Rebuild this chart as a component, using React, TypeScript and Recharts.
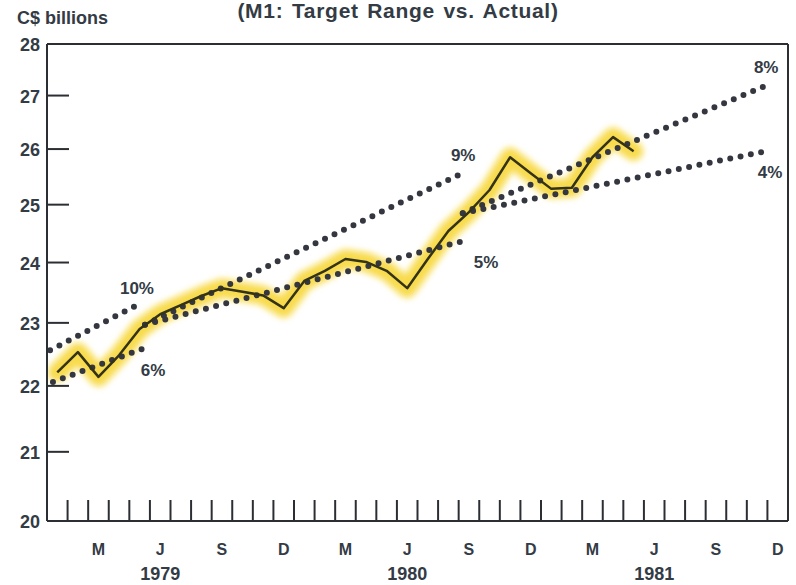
import { LineChart, Line, XAxis, YAxis, ReferenceLine } from "recharts";

// month letters shown under Mar, Jun, Sep, Dec
const monthLetters = ["M", "J", "S", "D"];
const years = ["1979", "1980", "1981"];
const yTicks = [20, 21, 22, 23, 24, 25, 26, 27, 28];

// M1 actual, monthly from Jan 1979 to May 1981 (C$ billions)
const actualM1 = [
  22.21, 22.53, 22.14, 22.48, 22.9, 23.14, 23.29, 23.44, 23.57, 23.51, 23.45, 23.24,
  23.69, 23.86, 24.06, 24.01, 23.86, 23.57, 24.06, 24.54, 24.87, 25.26, 25.85, 25.56,
  25.28, 25.3, 25.85, 26.22, 25.96,
];

// target range growth paths: [month, value] at start and end (month 0 = start of Jan 1979)
const targetNames = ["10%", "6%", "9%", "5%", "8%", "4%"];
const targetFrom = [
  [0.15, 22.56],
  [0.29, 22.06],
  [4.76, 22.97],
  [4.76, 22.97],
  [20.2, 24.85],
  [20.2, 24.85],
];
const targetTo = [
  [4.37, 23.29],
  [4.86, 22.61],
  [20.17, 25.56],
  [20.36, 24.38],
  [34.99, 27.2],
  [35.18, 25.98],
];

const ink = "#333b45";
const font = "'Liberation Sans', Arial, sans-serif";

// where each % label sits relative to the end of its line
const labelOffset: Record<string, [number, number]> = {
  "10%": [0, -17],
  "6%": [6, 23],
  "9%": [1, -18],
  "5%": [20, 22],
  "8%": [-1, -18],
  "4%": [-1, 22],
};

const actualData = actualM1.map((v, i) => ({ t: i + 0.5, v }));
const targetData = targetNames.map((name, i) => ({
  name,
  data: [
    { t: targetFrom[i][0], v: targetFrom[i][1] },
    { t: targetTo[i][0], v: targetTo[i][1] },
  ],
}));

const monthBoundaries = Array.from({ length: 35 }, (_, i) => i + 1);
const labelCenters = Array.from({ length: 12 }, (_, i) => 2.5 + i * 3);
const xTicks = [...monthBoundaries, ...labelCenters];

function MonthTick(props: any) {
  const { x, y, payload } = props;
  const v = payload.value as number;
  if (Number.isInteger(v)) {
    return <line x1={x} x2={x} y1={y} y2={y - 21} stroke="#2b2f33" strokeWidth={2} />;
  }
  const m = Math.floor(v);
  const letter = monthLetters[((m - 2) / 3) % 4];
  const yi = (m - 5) / 12;
  return (
    <g>
      <text x={x} y={y + 34} textAnchor="middle" fill={ink} fontSize={16} fontWeight="bold" fontFamily={font}>
        {letter}
      </text>
      {Number.isInteger(yi) && (
        <text x={x} y={y + 59} textAnchor="middle" fill={ink} fontSize={18} fontWeight="bold" fontFamily={font}>
          {years[yi]}
        </text>
      )}
    </g>
  );
}

function ValueTick(props: any) {
  const { x, y, payload } = props;
  const v = payload.value as number;
  const inner = v > 20 && v < 28;
  return (
    <g>
      {inner && <line x1={x} x2={x + 22} y1={y} y2={y} stroke="#2b2f33" strokeWidth={2} />}
      <text x={x - 7} y={y + 7} textAnchor="end" fill={ink} fontSize={18} fontWeight="bold" fontFamily={font}>
        {v}
      </text>
    </g>
  );
}

function pctLabel(name: string) {
  return (p: any) => {
    if (p.index !== 1) return null;
    const [dx, dy] = labelOffset[name];
    return (
      <text
        key={name}
        x={p.x + dx}
        y={p.y + dy}
        textAnchor="middle"
        dominantBaseline="central"
        fill={ink}
        fontSize={17}
        fontWeight="bold"
        fontFamily={font}
      >
        {name}
      </text>
    );
  };
}

export default function App() {
  return (
    <div style={{ position: "absolute", left: 0, top: 0, width: 796, height: 585, background: "#fff" }}>
      <div
        style={{
          position: "absolute",
          left: 0,
          width: 796,
          top: -1,
          textAlign: "center",
          fontFamily: font,
          fontWeight: "bold",
          fontSize: 21,
          letterSpacing: 0.7,
          wordSpacing: 2,
          color: ink,
        }}
      >
        (M1: Target Range vs. Actual)
      </div>
      <div
        style={{
          position: "absolute",
          left: 17,
          top: 8,
          fontFamily: font,
          fontWeight: "bold",
          fontSize: 18,
          color: ink,
        }}
      >
        C$ billions
      </div>
      <LineChart
        width={796}
        height={585}
        data={actualData}
        margin={{ top: 44, right: 8, left: 0, bottom: 0 }}
        style={{ position: "absolute", left: 0, top: 0 }}
      >
        <defs>
          <filter id="hl" x="-10%" y="-30%" width="120%" height="160%">
            <feGaussianBlur stdDeviation="3" />
          </filter>
        </defs>
        <XAxis
          dataKey="t"
          type="number"
          domain={[0, 36]}
          ticks={xTicks}
          interval={0}
          allowDataOverflow
          height={64}
          tickSize={0}
          tickMargin={0}
          tickLine={false}
          axisLine={{ stroke: "#2b2f33", strokeWidth: 2 }}
          tick={(p: any) => <MonthTick {...p} />}
        />
        <YAxis
          type="number"
          scale="log"
          domain={[20, 28]}
          ticks={yTicks}
          interval={0}
          allowDataOverflow
          width={47}
          tickSize={0}
          tickMargin={0}
          tickLine={false}
          axisLine={{ stroke: "#2b2f33", strokeWidth: 2 }}
          tick={(p: any) => <ValueTick {...p} />}
        />
        <ReferenceLine y={28} stroke="#2b2f33" strokeWidth={2} />
        <ReferenceLine x={36} stroke="#2b2f33" strokeWidth={2} />
        <Line
          dataKey="v"
          stroke="#f5cf10"
          strokeWidth={19}
          strokeOpacity={0.75}
          strokeLinejoin="round"
          strokeLinecap="round"
          filter="url(#hl)"
          dot={false}
          activeDot={false}
          isAnimationActive={false}
        />
        {targetData.map((s) => (
          <Line
            key={s.name}
            data={s.data}
            dataKey="v"
            stroke="#34373f"
            strokeWidth={6}
            strokeDasharray="0 10.5"
            strokeLinecap="round"
            dot={false}
            activeDot={false}
            label={pctLabel(s.name)}
            isAnimationActive={false}
          />
        ))}
        <Line
          dataKey="v"
          stroke="#33321a"
          strokeWidth={2.5}
          strokeLinejoin="round"
          dot={false}
          activeDot={false}
          isAnimationActive={false}
        />
      </LineChart>
    </div>
  );
}
